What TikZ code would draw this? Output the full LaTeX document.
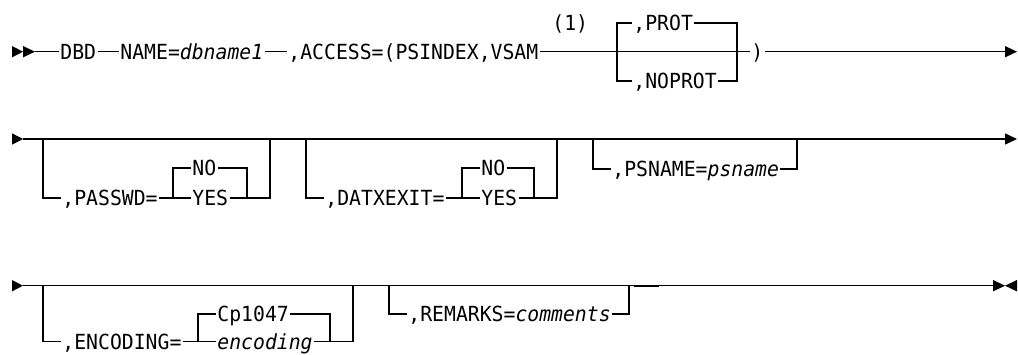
\documentclass[tikz,border=0pt]{standalone}
\usepackage{fontspec}
\setmainfont{DejaVu Sans Mono}[ItalicFont={DejaVu Sans Mono Oblique},FakeStretch=0.95]
\begin{document}
\begin{tikzpicture}[x=1pt,y=-1pt,line width=1.3pt,
  txt/.style={anchor=west,inner xsep=0.8pt,inner ysep=0pt,text height=15.2pt,text depth=0pt,font=\fontsize{20.8}{23}\selectfont},
  tipr/.style={fill=black,draw=none}]
\useasboundingbox (0,0) rectangle (1018,354);
% ---------- row 1 ----------
\coordinate (s1) at (35,51.7);
\coordinate (e1) at (1005,51.7);
\fill[tipr] (12,46) -- (23,51.7) -- (12,57.4) -- cycle;
\fill[tipr] (23,46) -- (35,51.7) -- (23,57.4) -- cycle;
\node[txt] (dbd) at (59,51.7) {DBD};
\node[txt] (name) at (119,51.7) {NAME=\textit{dbname1}};
\node[txt] (access) at (287,51.7) {,ACCESS=(PSINDEX,VSAM};
\node[txt] (note) at (551,23) {(1)};
\node[txt] (prot) at (632,23) {,PROT};
\node[txt] (noprot) at (632,81) {,NOPROT};
\node[txt] (rp) at (750,51.7) {)};
\draw (s1) -- (dbd.west);
\draw (dbd.east) -- (name.west);
\draw (name.east) -- (access.west);
\draw (access.east) -- (rp.west);
\draw (prot.west) -| (617,81) -- (noprot.west);
\draw (prot.east) -| (737,81) -- (noprot.east);
\draw (rp.east) -- (e1);
\fill[tipr] (1005,46) -- (1017,51.7) -- (1005,57.4) -- cycle;
% ---------- row 2 ----------
\coordinate (s2) at (23,139);
\coordinate (e2) at (1005,139);
\fill[tipr] (12,133.3) -- (23,139) -- (12,144.7) -- cycle;
\draw (s2) -- (e2);
\fill[tipr] (1005,133.3) -- (1017,139) -- (1005,144.7) -- cycle;
\node[txt] (passwd) at (61,198) {,PASSWD=};
\node[txt] (pwno) at (191,168) {NO};
\node[txt] (pwyes) at (191,198) {YES};
\draw (43,139) |- (passwd.west);
\draw (passwd.east) -- (pwyes.west);
\draw (pwno.west) -| (173,198);
\draw (pwno.east) -| (247,198);
\draw (pwyes.east) -- (270,198) -- (270,139);
\node[txt] (datx) at (324,198) {,DATXEXIT=};
\node[txt] (dxno) at (480,168) {NO};
\node[txt] (dxyes) at (480,198) {YES};
\draw (306,139) |- (datx.west);
\draw (datx.east) -- (dxyes.west);
\draw (dxno.west) -| (462,198);
\draw (dxno.east) -| (534,198);
\draw (dxyes.east) -- (557,198) -- (557,139);
\node[txt] (psname) at (611,169) {,PSNAME=\textit{psname}};
\draw (593,139) |- (psname.west);
\draw (psname.east) -| (797,139);
% ---------- row 3 ----------
\coordinate (s3) at (23,285.7);
\coordinate (e3) at (993,285.7);
\fill[tipr] (12,280) -- (23,285.7) -- (12,291.4) -- cycle;
\draw (s3) -- (e3);
\fill[tipr] (993,280) -- (1005,285.7) -- (993,291.4) -- cycle;
\fill[tipr] (1017,280) -- (1005,285.7) -- (1017,291.4) -- cycle;
\node[txt] (enc) at (61,341.5) {,ENCODING=};
\node[txt] (cp) at (216,314) {Cp1047};
\node[txt] (encv) at (216,341.5) {\textit{encoding}};
\draw (43,285.7) |- (enc.west);
\draw (enc.east) -- (encv.west);
\draw (cp.west) -| (198,341.5);
\draw (cp.east) -| (330,341.5);
\draw (encv.east) -- (353,341.5) -- (353,285.7);
\node[txt] (rem) at (407,314) {,REMARKS=\textit{comments}};
\draw (389,285.7) |- (rem.west);
\draw (rem.east) -| (629,285.7);
\draw[line width=2.2pt] (634,285.7) -- (659,285.7);
\end{tikzpicture}
\end{document}
